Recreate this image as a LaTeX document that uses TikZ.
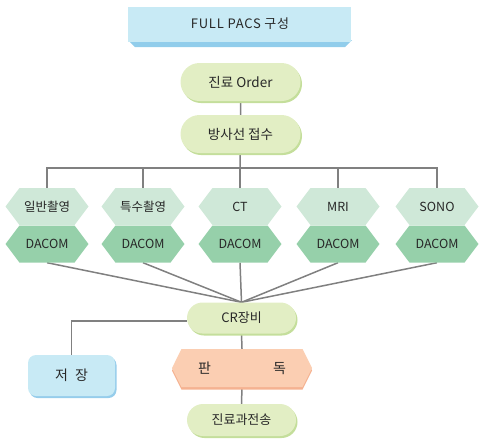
\documentclass[tikz,border=0pt]{standalone}
\usepackage{fontspec}
\setmainfont{Noto Sans CJK KR}
\usetikzlibrary{shapes.misc,shapes.symbols,shadows,backgrounds}
\definecolor{titlefill}{RGB}{200,234,245}
\definecolor{titleshade}{RGB}{145,205,235}
\definecolor{pillfill}{RGB}{226,238,196}
\definecolor{pillshade}{RGB}{196,222,155}
\definecolor{examfill}{RGB}{207,232,216}
\definecolor{dacomfill}{RGB}{150,208,170}
\definecolor{readfill}{RGB}{251,206,178}
\definecolor{readshade}{RGB}{245,178,145}
\definecolor{storefill}{RGB}{200,234,245}
\definecolor{storeshade}{RGB}{150,205,235}
\definecolor{linkgray}{RGB}{128,128,128}
\definecolor{ink}{RGB}{40,40,40}

\tikzset{
  pill/.style={rounded rectangle, fill=pillfill, inner sep=0pt, text=ink,
    drop shadow={shadow xshift=1.5pt, shadow yshift=-2pt, fill=pillshade, opacity=1}},
  hexbox/.style={signal, signal to=east and west, signal pointer angle=106,
    minimum width=83pt, minimum height=37pt, inner sep=0pt, text=ink, font=\fontsize{12.5}{14}\selectfont},
  exam/.style={hexbox, fill=examfill},
  dacom/.style={hexbox, fill=dacomfill},
  link/.style={draw=linkgray, line width=1.5pt}
}

\begin{document}
\begin{tikzpicture}[x=1pt, y=-1pt]
  \useasboundingbox (0,0) rectangle (484,445);

  % Title banner
  \fill[titleshade] (128,40) -- (352,40) -- (345,47) -- (135,47) -- cycle;
  \fill[titlefill] (128,7) rectangle (351,42);
  \node[text=ink, font=\fontsize{13}{15}\selectfont\addfontfeature{LetterSpace=6}]
    (title) at (240,24) {FULL PACS 구성};

  % Order flow
  \node[pill, minimum width=120pt, minimum height=38pt, font=\fontsize{13.5}{16}\selectfont]
    (order) at (240.5,82) {진료 Order};
  \node[pill, minimum width=120pt, minimum height=38pt, font=\fontsize{13.5}{16}\selectfont]
    (reception) at (240.5,134) {방사선 접수};

  % Modalities and DACOM
  \foreach \x/\name [count=\i] in {47/일반촬영, 143/특수촬영, 240/CT, 338/MRI, 437/SONO} {
    \node[exam] (exam\i) at (\x,206.5) {\name};
    \node[dacom] (dacom\i) at (\x,244) {DACOM};
  }
  \coordinate (bus) at (240,168);

  % CR and reading
  \node[pill, minimum width=109pt, minimum height=31pt, font=\fontsize{13}{15}\selectfont]
    (cr) at (241.5,318) {CR장비};
  \node[rounded corners=8pt, fill=storefill, minimum width=87pt, minimum height=41pt,
    text=ink, font=\fontsize{14}{16}\selectfont,
    drop shadow={shadow xshift=1.5pt, shadow yshift=-2pt, fill=storeshade, opacity=1}]
    (store) at (71.5,375.5) {저\hspace{7pt}장};
  \node[signal, signal to=east and west, signal pointer angle=127, fill=readfill,
    minimum width=140pt, minimum height=38pt, inner sep=0pt, text=ink,
    font=\fontsize{14}{16}\selectfont,
    drop shadow={shadow xshift=0pt, shadow yshift=-2.5pt, fill=readshade, opacity=1}]
    (reading) at (242,368) {판\hspace{62pt}독};
  \node[pill, minimum width=109pt, minimum height=32pt, font=\fontsize{13}{15}\selectfont]
    (send) at (241.5,420) {진료과전송};

  % Connectors
  \begin{scope}[on background layer]
    \draw[link] (order) -- (reception);
    \draw[link] (reception) -- (bus);
    \draw[link] (exam1.north) |- (bus) -| (exam5.north);
    \foreach \i in {2,3,4}
      \draw[link] (exam\i.north) -- (exam\i.north |- bus);
    \foreach \i in {1,...,5}
      \draw[link] (dacom\i.south) -- (cr.north);
    \draw[link] ([yshift=-3pt]cr.west) -| (store.north);
    \draw[link] (cr.south) -- (reading.north);
    \draw[link] (reading.south) -- (send.north);
  \end{scope}
\end{tikzpicture}
\end{document}
